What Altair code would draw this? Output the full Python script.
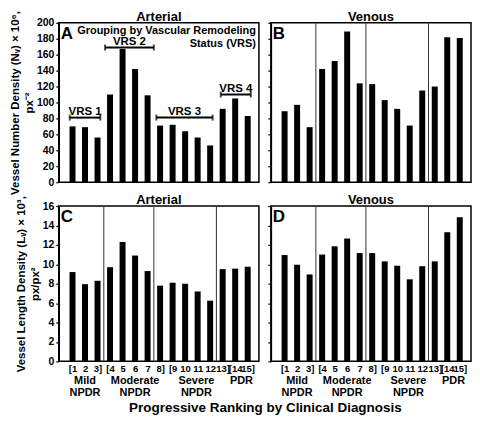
import altair as alt
import pandas as pd

# ---------------- data ----------------
rank = list(range(1, 16))
nv_arterial = [70, 69, 56, 110, 167, 142, 109, 71, 72, 64, 56, 46, 92, 105, 83]
nv_venous = [89, 97, 69, 142, 152, 189, 124, 123, 103, 92, 71, 115, 120, 182, 181]
lv_arterial = [9.2, 7.95, 8.3, 9.7, 12.3, 10.9, 9.3, 7.8, 8.1, 8.0, 7.2, 6.25, 9.5, 9.55, 9.75]
lv_venous = [10.95, 9.95, 8.95, 11.0, 11.85, 12.65, 11.15, 11.15, 10.3, 9.85, 8.45, 9.8, 10.3, 13.3, 14.85]

tick_labels = ["[1", "2", "3]", "[4", "5", "6", "7", "8]", "[9", "10", "11", "12", "13]", "[14", "15]"]
group_names = ["Mild\nNPDR", "Moderate\nNPDR", "Severe\nNPDR", "PDR"]
group_centers = [2, 6, 10.9, 14.5]
separators = [3.5, 7.5, 12.5]

vrs_names = ["VRS 1", "VRS 2", "VRS 3", "VRS 4"]
vrs_start = [0.78, 3.6, 7.7, 12.85]
vrs_end = [3.22, 7.5, 12.2, 15.25]
vrs_level = [81, 169, 81, 110]

nv_title = ["Vessel Number Density (N\u1d65) \u00d7 10\u2076,", "px\u207b\u00b2"]
lv_title = ["Vessel Length Density (L\u1d65) \u00d7 10\u00b3,", "px/px\u00b2"]
x_title = "Progressive Ranking by Clinical Diagnosis"
grouping_text = "Grouping by Vascular Remodeling\nStatus (VRS)"

FONT = "Liberation Sans"
W = 201
H_TOP = 160
H_BOT = 156
COL_SPACING = 12

label_js = "[" + ",".join("'%s'" % t for t in tick_labels) + "][datum.value - 1]"


def panel(values, ymax, ystep, title, letter, height, ytitle=None, bottom=False,
          seps=True, vrs=False, xtitle=False):
    df = pd.DataFrame({"x": rank, "y": values})
    xscale = alt.Scale(domain=[0.3, 15.5], nice=False, zero=False)
    yscale = alt.Scale(domain=[0, ymax], nice=False)
    yvals = [i * ystep for i in range(int(round(ymax / ystep)) + 1)]
    if ytitle is not None:
        yaxis = alt.Axis(values=yvals, title=ytitle, titleLineHeight=14, titlePadding=2,
                         labelPadding=2)
    else:
        yaxis = alt.Axis(values=yvals, labels=False, title=None)
    if bottom:
        xa = dict(values=rank, labelExpr=label_js, ticks=False, domain=False,
                  labelPadding=2, labelBaseline="top", labelFontSize=9.5,
                  labelAngle=0, labelOverlap=False, labelFlush=False)
        if xtitle:
            xa.update(title=x_title, titleX=W + COL_SPACING / 2, titleY=39,
                      titleBaseline="top", titleAlign="center", titleFontSize=13.5,
                      titleAnchor="middle")
        else:
            xa.update(title=None)
        xaxis = alt.Axis(**xa)
    else:
        xaxis = None

    def X(field):
        return alt.X(field, scale=xscale, axis=xaxis)

    def Y(field):
        return alt.Y(field, scale=yscale, axis=yaxis)

    bars = alt.Chart(df).mark_bar(color="black", size=6).encode(x=X("x:Q"), y=Y("y:Q"))
    layers = [bars]
    if seps:
        sdf = pd.DataFrame({"x": separators})
        layers.append(alt.Chart(sdf).mark_rule(color="#333333", strokeWidth=1).encode(
            x=X("x:Q")))
    if vrs:
        vdf = pd.DataFrame({"start": vrs_start, "end": vrs_end, "y": vrs_level,
                            "name": vrs_names})
        vdf["mid"] = [(a + b) / 2 for a, b in zip(vrs_start, vrs_end)]
        edf = pd.DataFrame({"x": vrs_start + vrs_end, "y": vrs_level + vrs_level})
        layers.append(alt.Chart(vdf).mark_rule(color="black", strokeWidth=2).encode(
            x=X("start:Q"), x2="end:Q", y=Y("y:Q")))
        layers.append(alt.Chart(edf).mark_tick(color="black", orient="vertical",
                                                size=6, thickness=2).encode(
            x=X("x:Q"), y=Y("y:Q")))
        layers.append(alt.Chart(vdf).mark_text(font=FONT, fontSize=11.5, fontWeight="bold",
                                               baseline="alphabetic", dy=-3,
                                               color="black").encode(
            x=X("mid:Q"), y=Y("y:Q"), text="name:N"))
        gdf = pd.DataFrame({"t": [grouping_text]})
        layers.append(alt.Chart(gdf).mark_text(font=FONT, fontSize=11, fontWeight="bold",
                                               align="right", baseline="top",
                                               lineBreak="\n", lineHeight=13,
                                               color="black").encode(
            x=alt.value(W - 3), y=alt.value(2), text="t:N"))
    if bottom:
        ndf = pd.DataFrame({"x": group_centers, "t": group_names})
        layers.append(alt.Chart(ndf).mark_text(font=FONT, fontSize=11, fontWeight="bold",
                                               baseline="top", lineBreak="\n",
                                               lineHeight=12, color="black").encode(
            x=X("x:Q"), y=alt.value(height + 14), text="t:N"))
    # panel letter
    ldf = pd.DataFrame({"t": [letter]})
    layers.append(alt.Chart(ldf).mark_text(font=FONT, fontSize=17, fontWeight="bold",
                                           align="left", baseline="top",
                                           color="black").encode(
        x=alt.value(2), y=alt.value(3), text="t:N"))
    # panel title
    tdf = pd.DataFrame({"t": [title]})
    layers.append(alt.Chart(tdf).mark_text(font=FONT, fontSize=13, fontWeight="bold",
                                           align="center", baseline="alphabetic",
                                           color="black").encode(
        x=alt.value(W / 2), y=alt.value(-2), text="t:N"))
    return alt.layer(*layers).properties(width=W, height=height)


A = panel(nv_arterial, 200, 20, "Arterial", "A", H_TOP, ytitle=nv_title, seps=False, vrs=True)
B = panel(nv_venous, 200, 20, "Venous", "B", H_TOP)
C = panel(lv_arterial, 16, 2, "Arterial", "C", H_BOT, ytitle=lv_title, bottom=True, xtitle=True)
D = panel(lv_venous, 16, 2, "Venous", "D", H_BOT, bottom=True)

chart = alt.concat(A, B, C, D, columns=2,
                   spacing=alt.RowColnumber(row=24, column=COL_SPACING),
                   bounds="flush").properties(padding=0, background="white").configure(
    font=FONT
).configure_view(stroke="black", strokeWidth=1.5).configure_axis(
    labelFont=FONT, labelFontSize=10.5, labelFontWeight="bold", labelColor="black",
    titleFont=FONT, titleFontSize=11.5, titleFontWeight="bold", titleColor="black",
    domainColor="black", domainWidth=1.5, tickColor="black", tickWidth=1.2,
    tickSize=3, grid=False
)

chart.save("out.html", embed_options={"renderer": "svg", "actions": False})
